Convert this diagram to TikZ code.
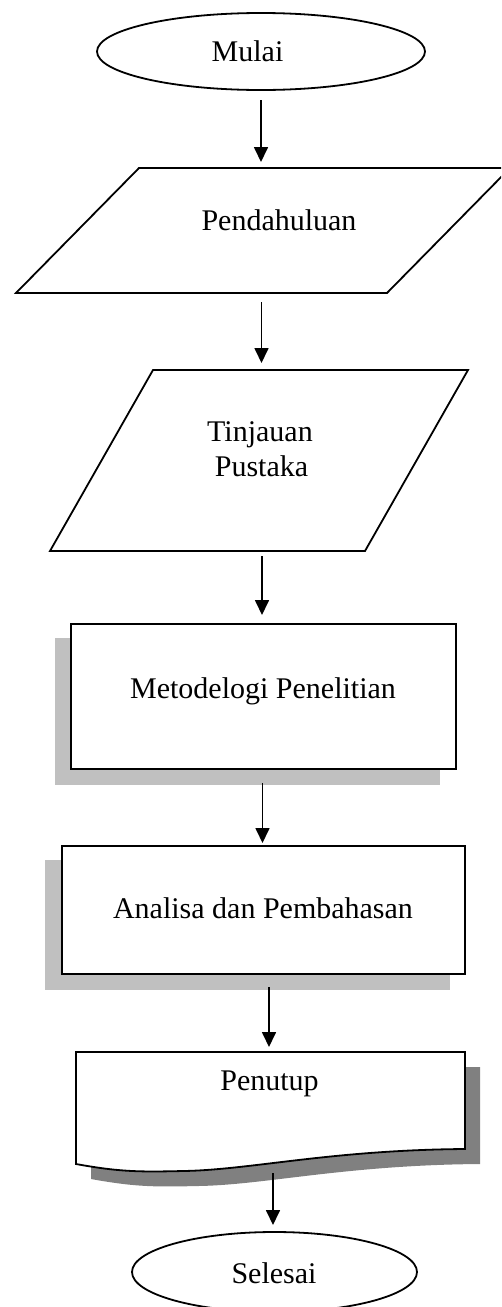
\documentclass[tikz,border=0pt]{standalone}
\usepackage{fontspec}
\setmainfont{Liberation Serif}
\usetikzlibrary{arrows.meta,shapes.geometric}
\definecolor{shadowlight}{HTML}{C0C0C0}
\definecolor{shadowdark}{HTML}{808080}
\begin{document}
\begin{tikzpicture}[x=1pt,y=-1pt,
  line width=1.8pt,
  arr/.style={-{Triangle[width=14pt,length=15pt]},line width=1.7pt},
  lbl/.style={font=\fontsize{30}{35}\selectfont,anchor=base,inner sep=0pt},
  oval/.style={ellipse,draw,line width=1.8pt,inner sep=0pt}]
\useasboundingbox (0,0) rectangle (501,1307);
\fill[white] (0,0) rectangle (501,1307);
\clip (0,0) rectangle (501,1307);

% Mulai
\node[oval,minimum width=328pt,minimum height=77pt] (mulai) at (261,51.5) {};
\node[lbl] (mulaiT) at (247.5,61) {Mulai};

% Pendahuluan parallelogram
\draw (139,168) -- (510,168) -- (387,293) -- (16,293) -- cycle;
\node[lbl] (pend) at (279,230) {Pendahuluan};

% Tinjauan Pustaka parallelogram
\draw (153,370) -- (468,370) -- (365,551) -- (50,551) -- cycle;
\node[lbl] (tinj) at (260,441.5) {Tinjauan};
\node[lbl] (pust) at (261.5,476.5) {Pustaka};

% Metodelogi Penelitian box with shadow
\fill[shadowlight] (55,638) rectangle (440,785);
\node[draw,fill=white,minimum width=385pt,minimum height=145pt,inner sep=0pt] (metode) at (263.5,696.5) {};
\node[lbl] (metodeT) at (263,698) {Metodelogi Penelitian};

% Analisa dan Pembahasan box with shadow
\fill[shadowlight] (45,860) rectangle (450,990);
\node[draw,fill=white,minimum width=403pt,minimum height=128pt,inner sep=0pt] (analisa) at (263.5,910) {};
\node[lbl] (analisaT) at (263,918) {Analisa dan Pembahasan};

% Penutup document with shadow
\fill[shadowdark] (91,1067) -- (480,1067) -- (480,1164)
  .. controls (345,1165) and (265,1185) .. (198,1186)
  .. controls (155,1187) and (135,1187) .. (91,1179) -- cycle;
\draw[fill=white] (76,1052) -- (465,1052) -- (465,1149)
  .. controls (330,1150) and (250,1170) .. (183,1171)
  .. controls (140,1172) and (120,1172) .. (76,1164) -- cycle;
\node[lbl] (penutupT) at (269.5,1090) {Penutup};

% Selesai
\node[oval,minimum width=285pt,minimum height=80pt] (selesai) at (274.5,1272) {};
\node[lbl] (selesaiT) at (274,1283) {Selesai};

% connector end points
\coordinate (a1s) at (261,100);  \coordinate (a1e) at (261,162);
\coordinate (a2s) at (261.5,302); \coordinate (a2e) at (261.5,363);
\coordinate (a3s) at (262,556);  \coordinate (a3e) at (262,615);
\coordinate (a4s) at (262.5,783); \coordinate (a4e) at (262.5,843);
\coordinate (a5s) at (269,987);  \coordinate (a5e) at (269,1047);
\coordinate (a6s) at (273,1173); \coordinate (a6e) at (273,1225);

\draw[arr] (a1s) -- (a1e);
\draw[arr] (a2s) -- (a2e);
\draw[arr] (a3s) -- (a3e);
\draw[arr] (a4s) -- (a4e);
\draw[arr] (a5s) -- (a5e);
\draw[arr] (a6s) -- (a6e);
\end{tikzpicture}
\end{document}
